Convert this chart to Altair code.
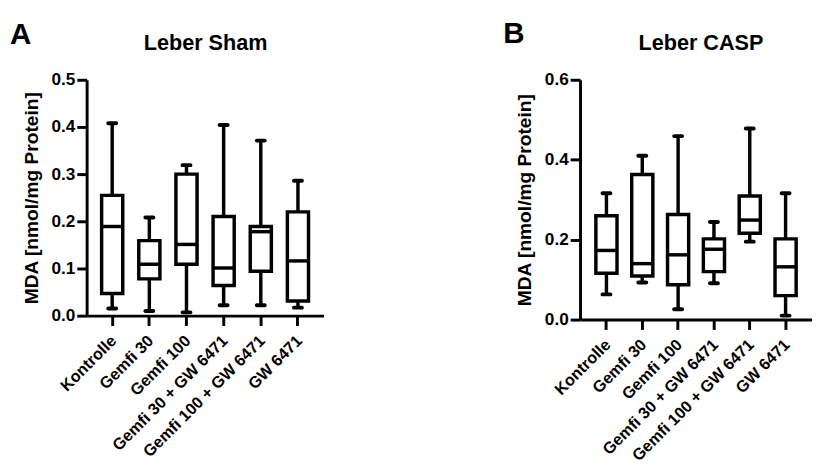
import altair as alt
import pandas as pd

groups = ["Kontrolle", "Gemfi 30", "Gemfi 100", "Gemfi 30 + GW 6471", "Gemfi 100 + GW 6471", "GW 6471"]

# Panel A: Leber Sham
sham_min = [0.015, 0.010, 0.007, 0.022, 0.022, 0.017]
sham_q1 = [0.047, 0.078, 0.109, 0.064, 0.094, 0.031]
sham_median = [0.189, 0.109, 0.151, 0.101, 0.178, 0.116]
sham_q3 = [0.255, 0.159, 0.300, 0.210, 0.189, 0.220]
sham_max = [0.408, 0.208, 0.319, 0.404, 0.371, 0.286]

# Panel B: Leber CASP
casp_min = [0.063, 0.093, 0.026, 0.091, 0.195, 0.010]
casp_q1 = [0.116, 0.109, 0.087, 0.120, 0.216, 0.060]
casp_median = [0.173, 0.140, 0.162, 0.176, 0.249, 0.132]
casp_q3 = [0.260, 0.363, 0.263, 0.202, 0.309, 0.202]
casp_max = [0.316, 0.410, 0.459, 0.244, 0.478, 0.316]

FONT = "Liberation Sans"


def panel(title, letter, mn, q1, med, q3, mx, ymax, yticks, width, height, pad, xrange, lx, ly, tx, ty):
    df = pd.DataFrame({"group": groups, "min": mn, "q1": q1, "median": med, "q3": q3, "max": mx})
    x = alt.X(
        "group:N",
        sort=groups,
        title=None,
        scale=alt.Scale(paddingInner=0, paddingOuter=pad, range=xrange),
        axis=alt.Axis(labelAngle=-45, labelPadding=7, labelOffset=-4),
    )
    ysc = alt.Scale(domain=[0, ymax], nice=False, zero=True)
    yax = alt.Axis(values=yticks, format=".1f", title="MDA [nmol/mg Protein]",
                   titleX=-46, titleAngle=-90, titleBaseline="bottom", titleAlign="center")
    base = alt.Chart(df).encode(x=x)
    whisk = base.mark_rule(color="black", strokeWidth=3.5).encode(
        y=alt.Y("min:Q", scale=ysc, axis=yax), y2="max:Q"
    )
    box = base.mark_bar(size=21.5, fill="white", stroke="black", strokeWidth=3.5).encode(
        y=alt.Y("q1:Q", scale=ysc, axis=yax), y2="q3:Q"
    )
    medl = base.mark_tick(size=21.5, thickness=3.5, color="black", opacity=1).encode(
        y=alt.Y("median:Q", scale=ysc, axis=yax)
    )
    capl = base.mark_tick(size=12, thickness=4, cornerRadius=2, color="black", opacity=1).encode(
        y=alt.Y("min:Q", scale=ysc, axis=yax)
    )
    caph = base.mark_tick(size=12, thickness=4, cornerRadius=2, color="black", opacity=1).encode(
        y=alt.Y("max:Q", scale=ysc, axis=yax)
    )
    lab = alt.Chart(pd.DataFrame({"t": [letter]})).mark_text(
        font=FONT, fontSize=30, fontWeight="bold", align="left", baseline="alphabetic", color="black"
    ).encode(text="t:N", x=alt.value(lx), y=alt.value(ly))
    ttl = alt.Chart(pd.DataFrame({"t": [title]})).mark_text(
        font=FONT, fontSize=22, fontWeight="bold", align="center", baseline="alphabetic", color="black"
    ).encode(text="t:N", x=alt.value(tx), y=alt.value(ty))
    return alt.layer(whisk, box, medl, capl, caph, lab, ttl).properties(width=width, height=height)


a = panel("Leber Sham", "A", sham_min, sham_q1, sham_median, sham_q3, sham_max, 0.5,
          [0.0, 0.1, 0.2, 0.3, 0.4, 0.5], 241, 240, 0.188, [0, 241], -78, -36, 121, -30)
b = panel("Leber CASP", "B", casp_min, casp_q1, casp_median, casp_q3, casp_max, 0.6,
          [0.0, 0.2, 0.4, 0.6], 219, 244, 0.237, [0, 236], -78, -37, 123, -30)

chart = alt.hconcat(a, b, spacing=183).properties(
    padding={"left": 2, "top": 8, "right": 0, "bottom": 0},
    background="white",
).configure_view(stroke=None).configure_axis(
    grid=False,
    domainColor="black",
    domainWidth=3,
    tickColor="black",
    tickWidth=3,
    tickSize=10,
    labelFont=FONT,
    labelFontSize=17.5,
    labelFontWeight="bold",
    labelColor="black",
    labelPadding=2,
    titleFont=FONT,
    titleFontSize=19.5,
    titleFontWeight="bold",
    titleColor="black",
).configure_axisX(labelFontSize=16.5)

chart.save("out.html", embed_options={"renderer": "svg", "actions": False})
